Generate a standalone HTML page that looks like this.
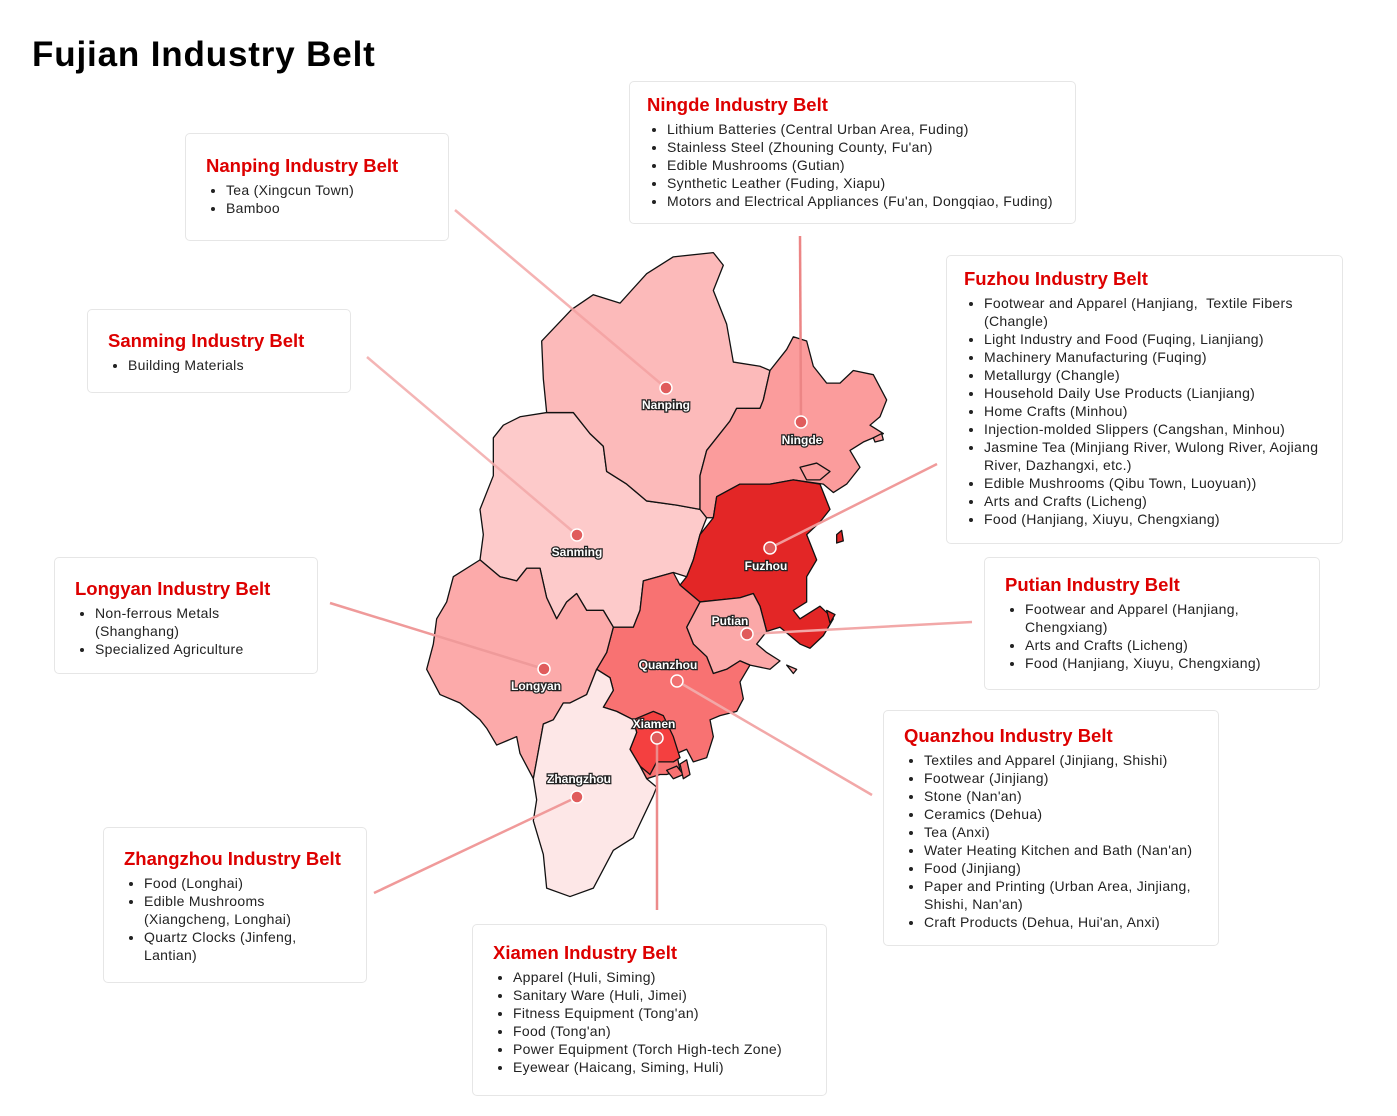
<!DOCTYPE html>
<html><head><meta charset="utf-8"><style>
body{margin:0;width:1397px;height:1116px;background:#fff;position:relative;font-family:"Liberation Sans",sans-serif;overflow:hidden}
h1{position:absolute;left:32px;top:35px;margin:0;font-size:35px;font-weight:bold;color:#000;letter-spacing:0.85px}
.box{position:absolute;background:#fff;border:1px solid #e6e6e6;border-radius:5px;box-sizing:border-box;padding:12px 10px 0 20px}
.box h2{margin:0;color:#dd0000;font-size:18.5px;font-weight:bold;line-height:40px}
.box ul{margin:-5px 0 0 0;padding:0 0 0 20px;font-size:14px;line-height:18px;color:#222;letter-spacing:0.3px;white-space:nowrap}
svg{position:absolute;left:0;top:0}
</style></head><body>
<h1>Fujian Industry Belt</h1>
<svg width="1397" height="1116">
<g transform="translate(420,240) scale(0.33333,0.42088)" stroke="#111" stroke-width="1.3" stroke-linejoin="round">
<polygon vector-effect="non-scaling-stroke" fill="#fdcaca" points="220,470 250,440 300,420 380,410 460,410 510,460 550,490 560,550 620,580 680,620 770,630 840,640 860,660 840,700 820,760 800,800 760,790 670,810 660,880 640,920 580,920 550,880 500,880 470,840 440,860 410,900 380,850 360,780 320,780 290,810 240,800 180,760 190,700 180,640 220,560"/>
<polygon vector-effect="non-scaling-stroke" fill="#fcbaba" points="365,240 455,165 520,130 600,150 680,80 760,40 880,30 910,60 880,120 920,200 940,290 1020,300 1050,310 1030,380 1020,400 950,400 930,430 860,500 840,560 840,640 770,630 680,620 620,580 560,550 550,490 510,460 460,410 380,410 370,330"/>
<polygon vector-effect="non-scaling-stroke" fill="#fb9c9c" points="1050,310 1100,260 1120,230 1160,240 1180,300 1220,340 1260,340 1300,310 1360,320 1400,380 1380,420 1350,440 1390,460 1330,480 1290,500 1320,540 1280,580 1240,600 1210,580 1120,570 1050,580 960,580 890,610 880,660 860,660 840,640 840,560 860,500 930,430 950,400 1020,400 1030,380"/>
<polygon vector-effect="non-scaling-stroke" fill="#e32626" points="890,610 960,580 1050,580 1120,570 1200,580 1230,640 1200,670 1160,700 1170,720 1190,760 1160,800 1160,860 1120,880 1140,900 1200,870 1240,900 1210,940 1170,970 1140,960 1080,920 1040,930 1020,870 1000,840 960,850 840,860 780,820 800,800 820,760 840,700 880,660"/>
<polygon vector-effect="non-scaling-stroke" fill="#fba8a8" points="840,860 960,850 1000,840 1020,870 1040,930 1010,960 1040,980 1080,1000 1050,1020 990,1010 960,1000 920,1020 880,1030 860,990 820,960 800,920"/>
<polygon vector-effect="non-scaling-stroke" fill="#f87272" points="580,920 640,920 660,880 670,810 760,790 780,820 840,860 800,920 820,960 860,990 880,1030 920,1020 960,1000 990,1010 960,1050 970,1090 950,1120 900,1130 870,1140 880,1180 860,1230 820,1240 800,1210 770,1220 780,1260 740,1270 720,1270 680,1280 660,1250 630,1210 650,1170 640,1140 590,1120 550,1110 580,1070 570,1040 530,1020 560,980"/>
<polygon vector-effect="non-scaling-stroke" fill="#f44040" points="640,1140 700,1120 730,1130 760,1180 780,1230 760,1240 710,1240 690,1270 660,1250 630,1210 650,1170"/>
<polygon vector-effect="non-scaling-stroke" fill="#fcaaaa" points="100,800 180,760 240,800 290,810 320,780 360,780 380,850 410,900 440,860 470,840 500,880 550,880 580,920 560,980 530,1020 500,1080 450,1100 430,1100 400,1140 370,1150 340,1280 300,1220 290,1180 230,1200 200,1160 180,1140 120,1100 60,1080 20,1020 40,960 50,900 80,860"/>
<polygon vector-effect="non-scaling-stroke" fill="#fde7e7" points="340,1280 370,1150 400,1140 430,1100 450,1100 500,1080 530,1020 570,1040 580,1070 550,1110 590,1120 640,1140 650,1170 630,1210 660,1250 680,1280 710,1300 700,1320 640,1420 580,1450 560,1480 520,1540 450,1560 380,1540 370,1460 340,1380 350,1330"/>
<polygon vector-effect="non-scaling-stroke" fill="#fb9c9c" points="1140,540 1190,530 1230,550 1200,570 1160,570"/>
<polygon vector-effect="non-scaling-stroke" fill="#fb9c9c" points="1360,470 1385,460 1390,475 1365,480"/>
<polygon vector-effect="non-scaling-stroke" fill="#e32626" points="1250,700 1265,690 1270,715 1250,720"/>
<polygon vector-effect="non-scaling-stroke" fill="#e32626" points="1220,880 1245,890 1230,910"/>
<polygon vector-effect="non-scaling-stroke" fill="#f87272" points="740,1260 770,1250 790,1270 760,1280"/>
<polygon vector-effect="non-scaling-stroke" fill="#f87272" points="780,1245 800,1235 810,1270 790,1280"/>
<polygon vector-effect="non-scaling-stroke" fill="#fb9c9c" points="1100,1010 1130,1020 1120,1030"/>
</g>
<g stroke-width="2.5" fill="none">
<line x1="455" y1="210" x2="666" y2="388" stroke="#f2a0a0" stroke-opacity=".8"/>
<line x1="800" y1="236" x2="801" y2="422" stroke="#ec8585"/>
<line x1="937" y1="464" x2="770" y2="548" stroke="#f09a9a"/>
<line x1="367" y1="357" x2="577" y2="535" stroke="#f2a8a8" stroke-opacity=".85"/>
<line x1="330" y1="603" x2="544" y2="669" stroke="#ef9a9a"/>
<line x1="972" y1="622" x2="747" y2="634" stroke="#f2a8a8"/>
<line x1="872" y1="795" x2="677" y2="681" stroke="#f2a8a8"/>
<line x1="657" y1="910" x2="657" y2="738" stroke="#ec8b8b"/>
<line x1="374" y1="893" x2="577" y2="797" stroke="#f09a9a"/>
</g>
<g fill="#e05c5c" stroke="#fff" stroke-width="1.5">
<circle cx="666" cy="388" r="6"/><circle cx="801" cy="422" r="6"/><circle cx="770" cy="548" r="6"/>
<circle cx="577" cy="535" r="6"/><circle cx="544" cy="669" r="6"/><circle cx="747" cy="634" r="6"/>
<circle cx="677" cy="681" r="6" fill="#f07070"/><circle cx="657" cy="738" r="6"/><circle cx="577" cy="797" r="6"/>
</g>
<g font-family="Liberation Sans,sans-serif" font-size="12" font-weight="bold" fill="#fff" stroke="#222" stroke-width="2.5" paint-order="stroke" text-anchor="middle">
<text x="666" y="409">Nanping</text><text x="802" y="444">Ningde</text><text x="766" y="570">Fuzhou</text>
<text x="577" y="556">Sanming</text><text x="536" y="690">Longyan</text><text x="730" y="625">Putian</text>
<text x="668" y="669">Quanzhou</text><text x="654" y="728">Xiamen</text><text x="579" y="783">Zhangzhou</text>
</g>
</svg>

<div class="box" style="left:185px;top:133px;width:264px;height:108px"><h2>Nanping Industry Belt</h2><ul><li>Tea (Xingcun Town)</li><li>Bamboo</li></ul></div>
<div class="box" style="left:629px;top:81px;width:447px;height:143px;padding-left:17px;padding-top:3px"><h2>Ningde Industry Belt</h2><ul><li>Lithium Batteries (Central Urban Area, Fuding)</li><li>Stainless Steel (Zhouning County, Fu'an)</li><li>Edible Mushrooms (Gutian)</li><li>Synthetic Leather (Fuding, Xiapu)</li><li>Motors and Electrical Appliances (Fu'an, Dongqiao, Fuding)</li></ul></div>
<div class="box" style="left:946px;top:255px;width:397px;height:289px;padding-left:17px;padding-top:3px"><h2>Fuzhou Industry Belt</h2><ul><li>Footwear and Apparel (Hanjiang,&nbsp; Textile Fibers<br>(Changle)</li><li>Light Industry and Food (Fuqing, Lianjiang)</li><li>Machinery Manufacturing (Fuqing)</li><li>Metallurgy (Changle)</li><li>Household Daily Use Products (Lianjiang)</li><li>Home Crafts (Minhou)</li><li>Injection-molded Slippers (Cangshan, Minhou)</li><li>Jasmine Tea (Minjiang River, Wulong River, Aojiang<br>River, Dazhangxi, etc.)</li><li>Edible Mushrooms (Qibu Town, Luoyuan))</li><li>Arts and Crafts (Licheng)</li><li>Food (Hanjiang, Xiuyu, Chengxiang)</li></ul></div>
<div class="box" style="left:87px;top:309px;width:264px;height:84px;padding-top:11px"><h2>Sanming Industry Belt</h2><ul><li>Building Materials</li></ul></div>
<div class="box" style="left:54px;top:557px;width:264px;height:117px;padding-top:11px"><h2>Longyan Industry Belt</h2><ul><li>Non-ferrous Metals<br>(Shanghang)</li><li>Specialized Agriculture</li></ul></div>
<div class="box" style="left:984px;top:557px;width:336px;height:133px;padding-top:7px"><h2>Putian Industry Belt</h2><ul><li>Footwear and Apparel (Hanjiang,<br>Chengxiang)</li><li>Arts and Crafts (Licheng)</li><li>Food (Hanjiang, Xiuyu, Chengxiang)</li></ul></div>
<div class="box" style="left:883px;top:710px;width:336px;height:236px;padding-top:5px"><h2>Quanzhou Industry Belt</h2><ul><li>Textiles and Apparel (Jinjiang, Shishi)</li><li>Footwear (Jinjiang)</li><li>Stone (Nan'an)</li><li>Ceramics (Dehua)</li><li>Tea (Anxi)</li><li>Water Heating Kitchen and Bath (Nan'an)</li><li>Food (Jinjiang)</li><li>Paper and Printing (Urban Area, Jinjiang,<br>Shishi, Nan'an)</li><li>Craft Products (Dehua, Hui'an, Anxi)</li></ul></div>
<div class="box" style="left:103px;top:827px;width:264px;height:156px;padding-top:11px"><h2>Zhangzhou Industry Belt</h2><ul><li>Food (Longhai)</li><li>Edible Mushrooms<br>(Xiangcheng, Longhai)</li><li>Quartz Clocks (Jinfeng,<br>Lantian)</li></ul></div>
<div class="box" style="left:472px;top:924px;width:355px;height:172px;padding-top:8px"><h2>Xiamen Industry Belt</h2><ul><li>Apparel (Huli, Siming)</li><li>Sanitary Ware (Huli, Jimei)</li><li>Fitness Equipment (Tong'an)</li><li>Food (Tong'an)</li><li>Power Equipment (Torch High-tech Zone)</li><li>Eyewear (Haicang, Siming, Huli)</li></ul></div>
</body></html>
